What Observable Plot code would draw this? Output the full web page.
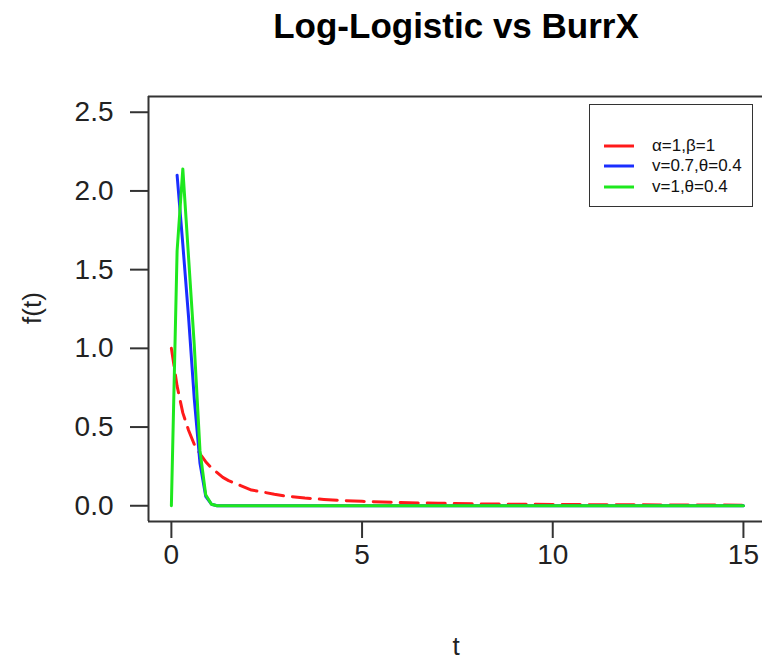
<!DOCTYPE html>
<html>
<head>
<meta charset="utf-8">
<script src="https://cdn.jsdelivr.net/npm/d3@7"></script>
<script src="https://cdn.jsdelivr.net/npm/@observablehq/plot@0.6"></script>
<style>
  html, body { margin: 0; padding: 0; background: #fff; }
  #wrap { position: relative; width: 762px; height: 660px; overflow: hidden; font-family: "Liberation Sans", Arial, Helvetica, sans-serif; color: #111; }
  #title { position: absolute; left: 150px; width: 612px; top: 8px; text-align: center; font-size: 35px; line-height: 35px; font-weight: bold; color: #000; }
  #xlab { position: absolute; left: 150px; width: 612px; top: 633px; text-align: center; font-size: 26px; line-height: 26px; color: #222; }
  #ylab { position: absolute; left: 32px; top: 308px; font-size: 26px; line-height: 26px; transform: translate(-50%, -50%) rotate(-90deg); white-space: nowrap; color: #222; }
  #legend { position: absolute; left: 589px; top: 104px; width: 162px; height: 101px; border: 1.5px solid #333; background: #fff; }
  #legend .row { position: absolute; left: 0; height: 20px; }
  #legend .lab { position: absolute; left: 62px; top: -10px; font-size: 17px; line-height: 20px; white-space: nowrap; color: #111; }
  svg [aria-label^="x-axis"] path, svg [aria-label^="x-axis"] line,
  svg [aria-label^="y-axis"] path, svg [aria-label^="y-axis"] line { stroke-width: 2px; stroke: #333; }
</style>
</head>
<body>
<div id="wrap">
  <div id="plot"></div>
  <div id="title">Log-Logistic vs BurrX</div>
  <div id="xlab">t</div>
  <div id="ylab">f(t)</div>
  <div id="legend"></div>
</div>
<script>
// ---- data ----
const xTicks = [0, 5, 10, 15];
const yTicks = [0, 0.5, 1.0, 1.5, 2.0, 2.5];

const seriesLabels = ["α=1,β=1", "v=0.7,θ=0.4", "v=1,θ=0.4"];
const seriesColors = ["#ff1a1a", "#1a2eff", "#1ee81e"];

// Log-Logistic (alpha=1, beta=1) - red dashed
const tRed = [0, 0.15, 0.3, 0.45, 0.6, 0.75, 0.9, 1.05, 1.2, 1.35, 1.5, 1.8, 2.1, 2.4, 2.7, 3, 3.5, 4, 4.5, 5, 6, 7, 8, 9, 10, 11, 12, 13, 14, 15];
const fRed = [1.00, 0.76, 0.59, 0.48, 0.39, 0.33, 0.28, 0.24, 0.21, 0.18, 0.16, 0.13, 0.10, 0.087, 0.073, 0.062, 0.049, 0.040, 0.033, 0.028, 0.020, 0.016, 0.012, 0.010, 0.008, 0.007, 0.006, 0.005, 0.0045, 0.004];

// BurrX (v=0.7, theta=0.4) - blue
const tBlue = [0.15, 0.3, 0.45, 0.6, 0.75, 0.9, 1.05, 1.2, 15];
const fBlue = [2.10, 1.66, 1.20, 0.68, 0.27, 0.06, 0.01, 0.0, 0.0];

// BurrX (v=1, theta=0.4) - green
const tGreen = [0, 0.15, 0.3, 0.45, 0.6, 0.75, 0.9, 1.05, 1.2, 15];
const fGreen = [0, 1.62, 2.14, 1.58, 1.02, 0.35, 0.07, 0.01, 0.0, 0.0];

// ---- build tables ----
const toRows = (ts, fs) => ts.map((t, i) => ({t, f: fs[i]}));
const red = toRows(tRed, fRed);
const blue = toRows(tBlue, fBlue);
const green = toRows(tGreen, fGreen);

const xDomain = [-0.6, 15.5];
const yDomain = [-0.1, 2.6];

const chart = Plot.plot({
  width: 762,
  height: 660,
  marginLeft: 148,
  marginRight: 0,
  marginTop: 96,
  marginBottom: 139,
  style: {fontFamily: '"Liberation Sans", Arial, Helvetica, sans-serif', fontSize: "28px", color: "#222", background: "white"},
  x: {domain: xDomain, ticks: xTicks, tickSize: 17, tickPadding: 6, tickFormat: d => String(d), label: null},
  y: {domain: yDomain, ticks: yTicks, tickSize: 18, tickPadding: 17, tickFormat: d3.format(".1f"), label: null},
  marks: [
    Plot.ruleX([xDomain[0]], {stroke: "#333", strokeWidth: 2}),
    Plot.ruleY([yDomain[0], yDomain[1]], {stroke: "#333", strokeWidth: 2}),
    Plot.line(red, {x: "t", y: "f", stroke: seriesColors[0], strokeWidth: 3, strokeDasharray: "18,9"}),
    Plot.line(blue, {x: "t", y: "f", stroke: seriesColors[1], strokeWidth: 3}),
    Plot.line(green, {x: "t", y: "f", stroke: seriesColors[2], strokeWidth: 3})
  ]
});
document.getElementById("plot").appendChild(chart);

// ---- legend ----
const legend = document.getElementById("legend");
const rowTops = [41, 61, 82];
seriesLabels.forEach((lab, i) => {
  const row = document.createElement("div");
  row.className = "row";
  row.style.top = rowTops[i] + "px";
  row.innerHTML = `<svg width="60" height="2" style="position:absolute;left:0;top:-1px;overflow:visible">
      <line x1="14" x2="44" y1="1" y2="1" stroke="${seriesColors[i]}" stroke-width="3"/></svg>
    <span class="lab">${lab}</span>`;
  legend.appendChild(row);
});
</script>
</body>
</html>
